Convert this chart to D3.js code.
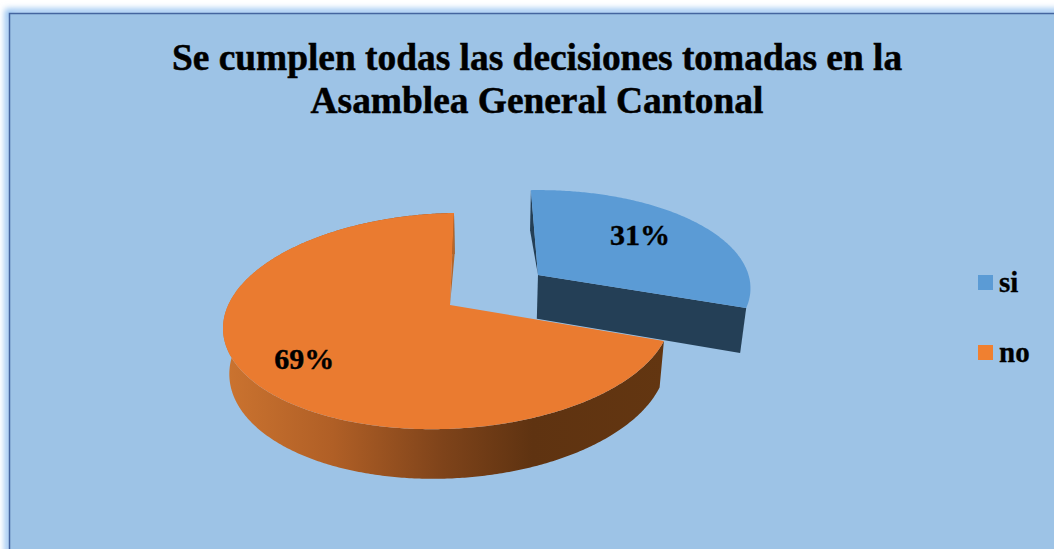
<!DOCTYPE html>
<html><head><meta charset="utf-8">
<style>html,body{margin:0;padding:0;background:#fff;overflow:hidden}svg{display:block}</style>
<script src="https://cdn.jsdelivr.net/npm/d3@7/dist/d3.min.js"></script>
</head><body><svg id="c" width="1054" height="549"></svg>
<script>
const categories = ["si", "no"];
const values = [31, 69];
const labels = ["31%", "69%"];
const titleLines = ["Se cumplen todas las decisiones tomadas en la", "Asamblea General Cantonal"];
const topColors = ["#5B9BD5", "#EA7B30"];
const legendColors = ["#5B9BD5", "#F08030"];

const svg = d3.select("#c");
const FONT = "'Liberation Serif','Times New Roman',serif";
const defs = svg.append("defs");
defs.append("filter").attr("id","glow").attr("x","-5%").attr("y","-5%").attr("width","110%").attr("height","110%")
  .append("feGaussianBlur").attr("stdDeviation",3);
const grad = defs.append("linearGradient").attr("id","wall").attr("gradientUnits","userSpaceOnUse")
  .attr("x1",222).attr("x2",665).attr("y1",0).attr("y2",0);
[[0,"#CC7430"],[0.25,"#B05F26"],[0.5,"#7E431A"],[0.7,"#5F3311"],[1,"#633611"]].forEach(([o,c])=>
  grad.append("stop").attr("offset",o).attr("stop-color",c));

// frame
svg.append("rect").attr("x",8).attr("y",12).attr("width",1070).attr("height",560)
  .attr("fill","none").attr("stroke","#8CBDF0").attr("stroke-width",6).attr("filter","url(#glow)");
svg.append("rect").attr("x",9.5).attr("y",13.5).attr("width",1070).attr("height",560)
  .attr("fill","#9DC3E6").attr("stroke","#44659F").attr("stroke-width",1.5);

// planar projection of the pie
const A=[450,305], U=[226,-1.8], VP=[481,-409], K=0.148, KU=0.01, ZP=[486,2250], DEPTH=0.0232, EXPLODE=[0.495,0];
function project(u,v){
  const w=1+K*v+KU*u;
  return [(A[0]+u*U[0]+v*K*VP[0])/w,(A[1]+u*U[1]+v*K*VP[1])/w,w];
}
const lower=p=>{const f=DEPTH/p[2];return [p[0]+f*(ZP[0]-p[0]),p[1]+f*(ZP[1]-p[1])];};
const line=d3.line();
const arcs=d3.pie().sort(null)(values);

function slicePts(a,i){
  const mid=(a.startAngle+a.endAngle)/2, e=EXPLODE[i];
  const o=[e*Math.sin(mid),e*Math.cos(mid)];
  const at=(t,r)=>project(o[0]+r*Math.sin(t),o[1]+r*Math.cos(t));
  const n=Math.ceil((a.endAngle-a.startAngle)/0.01);
  const ang=d3.range(n+1).map(k=>a.startAngle+(a.endAngle-a.startAngle)*k/n);
  return {apex:at(0,0),rim:ang.map(t=>at(t,1)),at,mid};
}
const wallColor=["#243F56","url(#wall)"];
const innerColor=["#243F56","#B5662A"];
arcs.forEach((a,i)=>{
  const s=slicePts(a,i), g=svg.append("g");
  const first=s.rim[0], last=s.rim[s.rim.length-1];
  // outer wall (the blue slice shows only its end wall at this viewpoint)
  if(i===1) g.append("path").attr("d",line(s.rim.concat(s.rim.map(lower).reverse()))+"Z").attr("fill",wallColor[i]);
  // radial wall at the 12 o'clock cut of each slice
  const cut=i===0?first:last;
  g.append("path").attr("d",line([s.apex,cut,lower(cut)])+"Z").attr("fill",innerColor[i]);
  // front radial wall of the exploded slice
  if(i===0) g.append("path").attr("d",line([s.apex,last,lower(last),lower(s.apex)])+"Z").attr("fill",wallColor[i]);
  // top
  g.append("path").attr("d",line([s.apex].concat(s.rim))+"Z").attr("fill",topColors[i]);
});

// data labels
const labelR=[0.62,0.76], labelDx=[2,6], labelDy=[-6,2];
arcs.forEach((a,i)=>{
  const s=slicePts(a,i), p=s.at(s.mid,labelR[i]);
  svg.append("text").attr("x",p[0]+labelDx[i]).attr("y",p[1]+labelDy[i]).attr("text-anchor","middle")
    .attr("dominant-baseline","central").attr("font-family",FONT).attr("font-weight","bold")
    .attr("font-size",30).attr("fill","#000").attr("stroke","#000").attr("stroke-width",0.4).text(labels[i]);
});

// title
titleLines.forEach((t,i)=>svg.append("text").attr("x",537).attr("y",70+i*43).attr("text-anchor","middle")
  .attr("font-family",FONT).attr("font-weight","bold").attr("font-size",37.4).attr("fill","#000")
  .attr("stroke","#000").attr("stroke-width",0.5).text(t));

// legend
const ly=d3.scalePoint().domain(categories).range([275,345]);
categories.forEach((c,i)=>{
  svg.append("rect").attr("x",978).attr("y",ly(c)).attr("width",15).attr("height",15).attr("fill",legendColors[i]);
  svg.append("text").attr("x",999).attr("y",ly(c)+17).attr("font-family",FONT).attr("font-weight","bold")
    .attr("font-size",29).attr("fill","#000").attr("stroke","#000").attr("stroke-width",0.3).text(c);
});
</script></body></html>
